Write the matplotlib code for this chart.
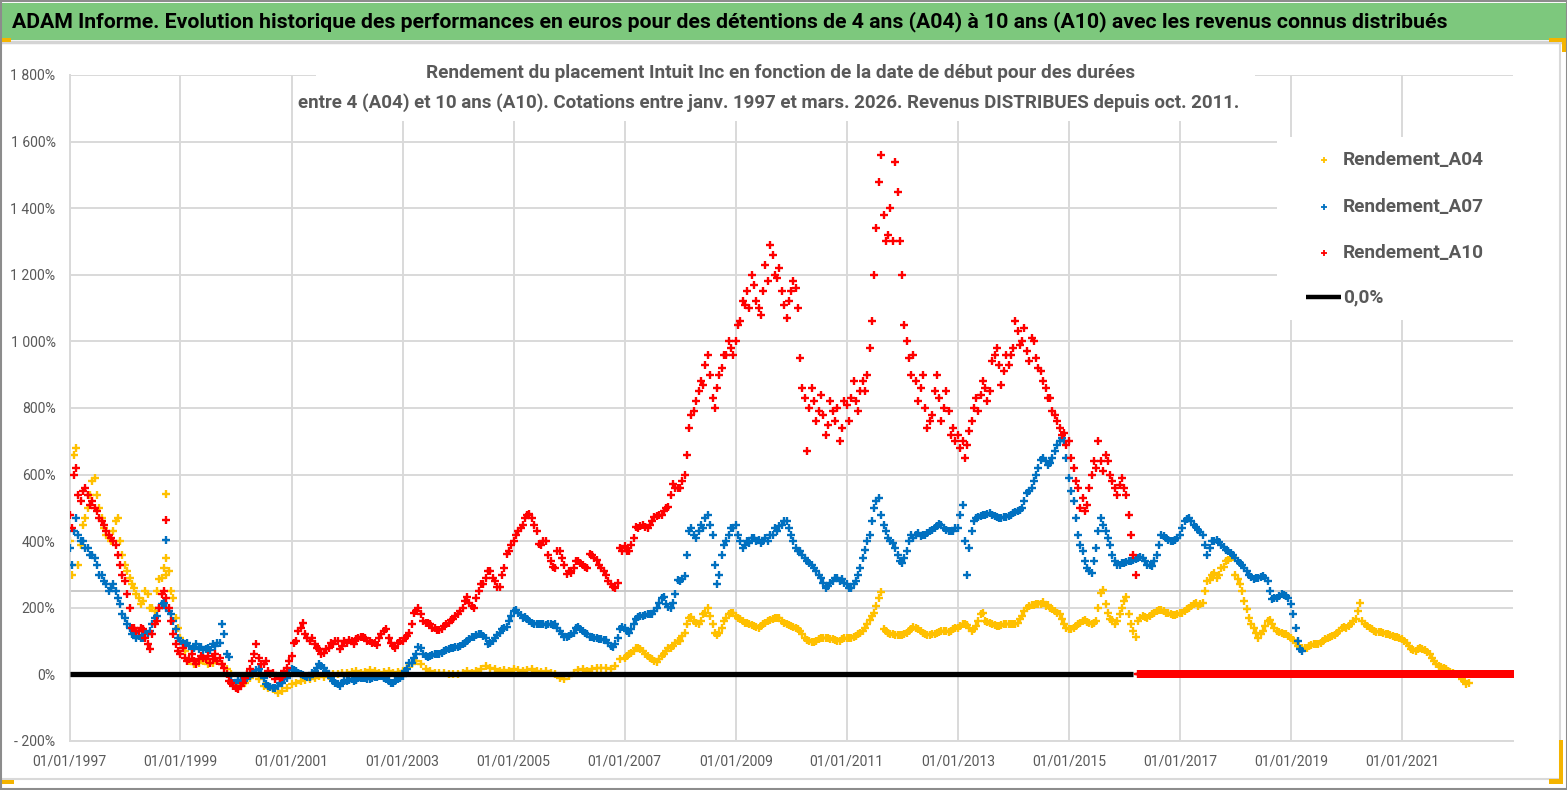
import numpy as np
import pandas as pd
import matplotlib
matplotlib.use("Agg")
import matplotlib.pyplot as plt
import matplotlib.dates as mdates
from matplotlib.patches import Rectangle
from matplotlib.lines import Line2D

# ---------------- DATA (in %) ----------------
title_text = ("ADAM Informe. Evolution historique des performances en euros pour des "
              "détentions de 4 ans (A04) à 10 ans (A10) avec les revenus connus distribués")
subtitle_1 = "Rendement du placement Intuit Inc en fonction de la date de début pour des durées"
subtitle_2 = ("entre 4 (A04) et 10 ans (A10). Cotations entre janv. 1997 et mars. 2026. "
              "Revenus DISTRIBUES depuis oct. 2011.")
legend_labels = ["Rendement_A04", "Rendement_A07", "Rendement_A10", "0,0%"]

start_date = "1997-01-01"
end_date = "2023-01-01"

# start-of-month values
rend_a04 = [
    400, 660, 330, 450, 500, 580, 540, 470, 420, 400, 460, 400,   # 1997
    330, 290, 260, 230, 220, 240, 200, 250, 290, 300, 250, 170,   # 1998
    110, 70, 40, 30, 35, 40, 30, 35, 40, 30, 15, 0,               # 1999
    -35, -30, -25, -10, 5, -15, -35, -40, -45, -55, -50, -40,     # 2000
    -30, -25, -20, -18, -15, -10, -5, -8, -5, 0, 0, 3,            # 2001
    5, 8, 10, 5, 8, 12, 10, 5, 8, 10, 5, 8,                       # 2002
    10, 20, 30, 40, 30, 15, 10, 5, 5, 3, 0, 2,                    # 2003
    0, 5, 10, 5, 10, 15, 25, 20, 15, 10, 12, 10,                  # 2004
    15, 12, 10, 12, 15, 10, 8, 10, 5, 0, -10, -15,                # 2005
    -5, 5, 12, 15, 10, 15, 20, 18, 20, 15, 25, 45,                # 2006
    50, 60, 70, 80, 70, 55, 45, 37, 55, 70, 80, 95,               # 2007
    100, 125, 170, 160, 150, 180, 200, 150, 118, 140, 170, 185,   # 2008
    175, 165, 155, 150, 145, 140, 150, 160, 165, 170, 160, 150,   # 2009
    145, 140, 130, 110, 100, 98, 105, 110, 108, 105, 100, 105,    # 2010
    108, 110, 115, 125, 140, 162, 185, 230, 135, 125, 120, 118,   # 2011
    118, 125, 135, 140, 130, 120, 118, 122, 128, 130, 128, 135,   # 2012
    140, 150, 148, 130, 145, 180, 160, 155, 148, 145, 150, 152,   # 2013
    150, 155, 175, 200, 208, 210, 212, 205, 200, 190, 180, 150,   # 2014
    135, 140, 150, 160, 158, 150, 160, 245, 210, 165, 150, 180,   # 2015
    220, 180, 130, 160, 175, 170, 180, 190, 193, 185, 180, 178,   # 2016
    183, 190, 200, 210, 205, 215, 280, 300, 290, 320, 340, 350,   # 2017
    300, 270, 220, 170, 140, 110, 130, 160, 150, 130, 125, 120,   # 2018
    110, 95, 80, 78, 85, 90, 92, 100, 110, 115, 125, 140,         # 2019
    140, 150, 165, 215, 150, 140, 130, 127, 125, 120, 115, 112,   # 2020
    105, 95, 75, 70, 78, 72, 60, 40, 25, 20, 10, 5,               # 2021
    0, -15, -28,                                                  # 2022
]
# mid-month values (15th)
rend_a04_mid_early = [
    300, 680, 390, 470, 540, 590, 500, 440, 410, 430, 470, 360,   # 1997
    310, 270, 240, 210, 250, 200, 190, 285, 320, 310, 230, 140,   # 1998
]
rend_a04_mid_late = [
    55, 65, 78, 75, 62, 48, 40, 45, 60, 78, 85, 100,              # 2007
    115, 150, 171, 155, 160, 183, 175, 123, 125, 160, 180, 184,   # 2008
    170, 160, 153, 148, 142, 145, 155, 163, 168, 168, 155, 148,   # 2009
    141, 135, 120, 103, 98, 100, 108, 110, 106, 102, 100, 108,    # 2010
    108, 112, 120, 130, 150, 175, 205, 248, 130, 122, 119, 119,   # 2011
    120, 130, 141, 135, 125, 119, 120, 125, 130, 129, 130, 138,   # 2012
    145, 152, 140, 135, 160, 184, 157, 150, 146, 148, 151, 150,   # 2013
    152, 165, 190, 205, 208, 211, 216, 208, 195, 185, 165, 140,   # 2014
    137, 145, 155, 163, 155, 155, 200, 253, 185, 163, 160, 200,   # 2015
    233, 150, 113, 170, 173, 175, 185, 193, 190, 183, 178, 180,   # 2016
    185, 195, 205, 213, 210, 250, 283, 305, 300, 323, 345, 353,   # 2017
    285, 250, 195, 150, 125, 120, 145, 162, 140, 128, 122, 115,   # 2018
    103, 85, 80, 80, 88, 92, 95, 105, 113, 118, 130, 142,         # 2019
    145, 160, 190, 160, 145, 135, 128, 127, 122, 118, 113, 110,   # 2020
    100, 85, 72, 75, 77, 68, 50, 30, 22, 15, 7, 2,                # 2021
    0, -20, -25,                                                  # 2022
]

rend_a07 = [
    380, 430, 420, 400, 380, 360, 330, 300, 270, 260, 250, 210,   # 1997
    170, 140, 125, 115, 110, 120, 150, 175, 210, 200, 180, 135,   # 1998
    100, 90, 85, 80, 75, 72, 80, 90, 95, 150, 60, -20,            # 1999
    -25, -20, -15, -5, 5, 15, -10, -35, -40, -35, -25, -10,       # 2000
    15, 10, 0, -5, -8, 10, 30, 20, 0, -20, -30, -25,              # 2001
    -20, -15, -18, -10, -12, -15, -8, -5, -10, -20, -27, -15,     # 2002
    -5, 15, 35, 60, 80, 55, 55, 60, 62, 70, 75, 80,               # 2003
    83, 90, 100, 112, 118, 122, 110, 95, 110, 125, 140, 160,      # 2004
    190, 185, 170, 165, 155, 150, 152, 148, 150, 152, 130, 112,   # 2005
    115, 125, 142, 130, 120, 112, 108, 105, 102, 85, 90, 135,     # 2006
    140, 125, 150, 172, 175, 180, 182, 200, 230, 210, 200, 240,   # 2007
    280, 295, 430, 420, 430, 440, 480, 420, 270, 360, 400, 440,   # 2008
    450, 400, 390, 395, 410, 405, 400, 402, 420, 430, 450, 460,   # 2009
    420, 380, 370, 350, 335, 320, 300, 275, 265, 280, 290, 285,   # 2010
    270, 260, 280, 320, 375, 420, 500, 530, 450, 410, 395, 360,   # 2011
    335, 370, 420, 420, 415, 420, 430, 440, 452, 440, 430, 430,   # 2012
    440, 510, 300, 430, 470, 475, 480, 484, 475, 470, 472, 475,   # 2013
    485, 490, 500, 545, 560, 600, 645, 640, 635, 670, 700, 700,   # 2014
    590, 520, 420, 370, 320, 305, 380, 470, 430, 390, 340, 330,   # 2015
    335, 340, 345, 350, 350, 330, 325, 360, 420, 410, 400, 405,   # 2016
    420, 460, 470, 450, 435, 420, 360, 400, 405, 390, 375, 365,   # 2017
    350, 335, 320, 300, 285, 290, 295, 280, 225, 230, 240, 235,   # 2018
    210, 140, 75,                                                 # 2019
]
# mid-month values (15th), 1997 to 2019
rend_a07_mid = [
    330, 470, 400, 380, 360, 350, 300, 280, 250, 270, 230, 180,   # 1997
    150, 120, 110, 110, 125, 130, 170, 200, 215, 190, 160, 110,   # 1998
    95, 93, 75, 90, 83, 75, 73, 85, 93, 120, 53, -25,             # 1999
    -17, -20, -10, 0, 13, 0, -30, -37, -40, -27, -15, 5,          # 2000
    13, 3, -3, -7, 5, 20, 25, 10, -10, -27, -35, -20,             # 2001
    -17, -20, -12, -12, -15, -10, -7, -5, -15, -27, -20, -10,     # 2002
    10, 33, 50, 83, 60, 53, 58, 62, 65, 73, 78, 82,               # 2003
    85, 95, 105, 112, 120, 115, 92, 100, 118, 135, 142, 175,      # 2004
    192, 178, 172, 160, 152, 150, 150, 152, 148, 140, 120, 112,   # 2005
    120, 140, 135, 125, 112, 110, 106, 103, 95, 82, 110, 142,     # 2006
    130, 135, 165, 175, 178, 182, 190, 215, 232, 202, 215, 282,   # 2007
    285, 360, 440, 410, 450, 470, 450, 330, 300, 390, 420, 440,   # 2008
    420, 380, 400, 410, 400, 395, 410, 420, 440, 445, 460, 440,   # 2009
    400, 370, 360, 340, 330, 310, 290, 260, 275, 290, 280, 275,   # 2010
    260, 270, 300, 350, 400, 460, 520, 480, 430, 400, 380, 340,   # 2011
    350, 400, 410, 425, 420, 425, 435, 445, 448, 435, 430, 440,   # 2012
    480, 400, 380, 460, 472, 478, 482, 480, 472, 471, 474, 480,   # 2013
    488, 495, 520, 550, 580, 620, 650, 630, 650, 690, 710, 650,   # 2014
    550, 470, 390, 340, 310, 340, 430, 450, 410, 360, 330, 335,   # 2015
    338, 342, 348, 352, 340, 328, 340, 390, 415, 405, 402, 410,   # 2016
    440, 468, 460, 442, 428, 390, 380, 402, 398, 382, 370, 358,   # 2017
    342, 328, 310, 292, 288, 292, 288, 250, 228, 235, 238, 228,   # 2018
    180, 100, 70,                                                 # 2019
]

rend_a10 = [
    480, 600, 540, 550, 540, 520, 490, 460, 430, 410, 390, 330,   # 1997
    280, 200, 140, 130, 135, 90, 120, 160, 240, 230, 160, 90,     # 1998
    60, 50, 45, 40, 45, 50, 55, 45, 40, 30, 0, -25,               # 1999
    -40, -35, -10, 15, 60, 50, 30, 10, 3, -5, -7, 20,             # 2000
    55, 100, 140, 120, 100, 90, 75, 65, 80, 90, 100, 85,          # 2001
    95, 100, 105, 112, 110, 100, 93, 110, 130, 110, 85, 95,       # 2002
    100, 115, 150, 190, 180, 155, 150, 140, 133, 145, 155, 165,   # 2003
    180, 200, 232, 205, 230, 270, 290, 310, 280, 262, 320, 370,   # 2004
    400, 430, 450, 480, 470, 430, 390, 400, 340, 320, 372, 330,   # 2005
    310, 320, 340, 330, 320, 360, 345, 320, 300, 270, 260, 380,   # 2006
    385, 370, 410, 440, 450, 440, 460, 475, 480, 500, 540, 560,   # 2007
    560, 600, 740, 790, 850, 870, 960, 830, 860, 920, 960, 980,   # 2008
    1000, 1060, 1110, 1100, 1170, 1100, 1150, 1180, 1260, 1190, 1150, 1070,  # 2009
    1150, 1160, 950, 830, 800, 820, 790, 780, 750, 790, 800, 740,  # 2010
    810, 830, 820, 850, 850, 980, 1200, 1480, 1380, 1320, 1300, 1450,  # 2011
    1200, 1000, 900, 880, 860, 800, 760, 850, 830, 800, 790, 740,  # 2012
    720, 700, 690, 760, 830, 840, 860, 850, 960, 930, 910, 930,   # 2013
    980, 1030, 1000, 970, 1010, 950, 910, 860, 830, 780, 740, 725,  # 2014
    700, 620, 560, 530, 510, 600, 620, 640, 660, 600, 560, 570,   # 2015
    560, 480, 360,                                                # 2016
]
# mid-month values (15th), 1997 to 2016
rend_a10_mid = [
    440, 620, 520, 560, 510, 500, 470, 450, 420, 400, 360, 300,   # 1997
    240, 140, 130, 140, 110, 75, 150, 200, 250, 200, 120, 70,     # 1998
    80, 40, 60, 30, 55, 45, 35, 60, 50, 20, -20, -35,             # 1999
    -45, -25, 0, 40, 90, 30, 40, 0, -15, -10, 10, 40,             # 2000
    95, 130, 153, 110, 110, 80, 60, 75, 95, 100, 75, 100,         # 2001
    103, 90, 108, 113, 100, 95, 88, 120, 135, 95, 80, 100,        # 2002
    110, 123, 183, 200, 160, 153, 140, 133, 135, 150, 163, 175,   # 2003
    190, 220, 215, 200, 250, 272, 312, 290, 262, 300, 362, 390,   # 2004
    420, 440, 470, 482, 450, 392, 402, 360, 322, 372, 350, 302,   # 2005
    305, 342, 335, 322, 362, 350, 330, 310, 280, 262, 275, 372,   # 2006
    372, 390, 442, 445, 442, 450, 472, 478, 490, 502, 572, 560,   # 2007
    580, 660, 780, 820, 880, 930, 900, 800, 900, 960, 1000, 960,  # 2008
    1050, 1120, 1150, 1200, 1120, 1080, 1230, 1290, 1200, 1220, 1110, 1120,  # 2009
    1180, 1100, 860, 670, 860, 760, 840, 720, 820, 760, 700, 820,  # 2010
    760, 880, 790, 880, 900, 1060, 1340, 1560, 1300, 1400, 1540, 1300,  # 2011
    1050, 950, 960, 820, 900, 740, 780, 900, 760, 850, 720, 700,  # 2012
    680, 650, 730, 800, 790, 880, 820, 940, 980, 870, 960, 960,   # 2013
    1060, 990, 1040, 940, 1000, 920, 880, 830, 790, 760, 720, 690,  # 2014
    650, 580, 500, 490, 560, 640, 700, 610, 640, 580, 540, 590,   # 2015
    540, 420, 300,                                                # 2016
]

# isolated spike points (vertical strokes) at one start date
spike_date = "1998-10-01"
spike_a04 = [543, 350]
spike_a07 = [403]
spike_a10 = [463]

# Excel plots the not-yet-known returns as 0 after the last possible start date
zero_a04_from = "2022-04-01"
zero_a07_from = "2019-04-01"
zero_a10_from = "2016-04-01"
zero_line_end = "2016-03-01"

y_ticks = [-200, 0, 200, 400, 600, 800, 1000, 1200, 1400, 1600, 1800]
y_tick_labels = ["- 200%", "0%", "200%", "400%", "600%", "800%", "1 000%",
                 "1 200%", "1 400%", "1 600%", "1 800%"]
x_tick_years = list(range(1997, 2023, 2))
extra_hline = 250

col_a04, col_a07, col_a10 = "#FFC000", "#0070C0", "#FF0000"
txt_gray = "#595959"
grid_col = "#D9D9D9"

# ---------------- FIGURE ----------------
W, H = 1567, 790
fig = plt.figure(figsize=(W / 100, H / 100), dpi=100)
fig.patch.set_facecolor("white")
fam = ["Liberation Sans Narrow", "Roboto", "DejaVu Sans"]
plt.rcParams["font.family"] = fam

AX_L, AX_R, AX_T, AX_B = 69.5, 1513, 75, 741
ax = fig.add_axes([AX_L / W, 1 - AX_B / H, (AX_R - AX_L) / W, (AX_B - AX_T) / H])


def month_dates(first, n, mid=False):
    d = pd.date_range(first, periods=n, freq="MS")
    return d + pd.Timedelta(days=14) if mid else d


def zero_tail(frm):
    d = pd.date_range(frm, end_date, freq="7D")
    return d, np.zeros(len(d))


mk = dict(linestyle="none", marker="+", ms=6.0, mew=1.7)
series = [
    (rend_a04, [(start_date, rend_a04_mid_early), ("2007-01-01", rend_a04_mid_late)],
     spike_a04, zero_a04_from, col_a04),
    (rend_a07, [(start_date, rend_a07_mid)], spike_a07, zero_a07_from, col_a07),
    (rend_a10, [(start_date, rend_a10_mid)], spike_a10, zero_a10_from, col_a10),
]
for i, (vals, mids, spk, zfrom, col) in enumerate(series):
    z = 2 + i
    zd, zv = zero_tail(zfrom)
    ax.plot(zd, zv, color=col, zorder=z, **mk)
    ax.plot(month_dates(start_date, len(vals)), vals, color=col, zorder=z, **mk)
    for first, mv in mids:
        ax.plot(month_dates(first, len(mv), mid=True), mv, color=col, zorder=z, **mk)
    ax.plot(pd.to_datetime([spike_date] * len(spk)), spk, color=col, zorder=z, **mk)

zl = pd.date_range(start_date, zero_line_end, freq="MS")
ax.plot(zl, np.zeros(len(zl)), color="black", lw=3.8, zorder=6, solid_capstyle="butt")

ax.axhline(extra_hline, color="#C6C6C6", lw=1.3, zorder=0.6)

ax.set_xlim(pd.Timestamp(start_date), pd.Timestamp(end_date))
ax.set_ylim(-200, 1800)
ax.set_yticks(y_ticks)
ax.set_yticklabels(y_tick_labels)
ax.set_xticks([pd.Timestamp(f"{y}-01-01") for y in x_tick_years])
ax.xaxis.set_major_formatter(mdates.DateFormatter("%d/%m/%Y"))
ax.grid(True, color=grid_col, lw=1.4)
ax.set_axisbelow(True)
for s in ["top", "right"]:
    ax.spines[s].set_visible(False)
for s in ["left", "bottom"]:
    ax.spines[s].set_color(grid_col)
    ax.spines[s].set_linewidth(1.4)
ax.tick_params(axis="both", length=0, colors=txt_gray)
ax.tick_params(axis="y", pad=10)
ax.tick_params(axis="x", pad=10)


# ---------------- helpers ----------------
def rect_px(x0, y0, x1, y1, **kw):
    r = Rectangle((x0 / W, 1 - y1 / H), (x1 - x0) / W, (y1 - y0) / H,
                  transform=fig.transFigure, **kw)
    fig.add_artist(r)
    return r


def line_px(xs, ys, **kw):
    l = Line2D([x / W for x in xs], [1 - y / H for y in ys],
               transform=fig.transFigure, **kw)
    fig.add_artist(l)
    return l


def text_px(x, y, s, **kw):
    return fig.text(x / W, 1 - y / H, s, **kw)


renderer = fig.canvas.get_renderer()


def fit(t, target_w):
    w = t.get_window_extent(renderer).width
    t.set_fontsize(t.get_fontsize() * target_w / w)


# ---------------- frame decorations ----------------
rect_px(0.5, 0.5, 1566.5, 789, fill=False, edgecolor="#8C8C8C", lw=1.5, zorder=20)
rect_px(1.5, 3, 1565.5, 39.5, facecolor="#7DC87D", edgecolor="none", zorder=10)
line_px([0, 1560], [41.5, 41.5], color="#D4D4D4", lw=2.5, zorder=10)
line_px([1559.5, 1559.5], [42, 779], color="#D9D9D9", lw=1.5, zorder=10)
line_px([0, 1560], [779, 779], color="#D9D9D9", lw=1.5, zorder=10)
gold = "#F4B400"
rect_px(0, 38, 11, 41.5, facecolor=gold, edgecolor="none", zorder=11)
rect_px(1549, 38, 1565.5, 41.5, facecolor=gold, edgecolor="none", zorder=11)
rect_px(1562, 38, 1565.5, 52, facecolor=gold, edgecolor="none", zorder=11)
rect_px(1559, 740, 1563, 784, facecolor=gold, edgecolor="none", zorder=11)
rect_px(1549, 779, 1563, 784, facecolor=gold, edgecolor="none", zorder=11)
rect_px(0, 780, 14, 784, facecolor=gold, edgecolor="none", zorder=11)

# white boxes hiding gridlines behind subtitle and legend
rect_px(316, 43, 1255, 121, facecolor="white", edgecolor="none", zorder=3)
rect_px(1277, 137, 1513, 320, facecolor="white", edgecolor="none", zorder=3)

# ---------------- texts ----------------
t_title = text_px(12, 22, title_text, fontsize=16, fontweight="bold", color="black",
                  ha="left", va="center", zorder=12)
fit(t_title, 1443)
t_s1 = text_px(781, 73.5, subtitle_1, fontsize=13, fontweight="bold", color=txt_gray,
               ha="center", va="center", zorder=12)
fit(t_s1, 707)
t_s2 = text_px(769, 103, subtitle_2, fontsize=13, fontweight="bold", color=txt_gray,
               ha="center", va="center", zorder=12)
fit(t_s2, 942)

# legend (manual, exact placement)
leg_y = [160, 207, 253, 297]
leg_cols = [col_a04, col_a07, col_a10]
leg_texts = []
for i in range(3):
    line_px([1324], [leg_y[i]], color=leg_cols[i], marker="+", ms=4.5, mew=1.3,
            linestyle="none", zorder=12)
line_px([1306, 1341], [leg_y[3], leg_y[3]], color="black", lw=3.2, zorder=12,
        solid_capstyle="butt")
for i, lab in enumerate(legend_labels):
    t = text_px(1343, leg_y[i], lab, fontsize=13, fontweight="bold", color=txt_gray,
                ha="left", va="center", zorder=12)
    leg_texts.append(t)
fit(leg_texts[0], 141)
for t in leg_texts[1:]:
    t.set_fontsize(leg_texts[0].get_fontsize())

# tick label sizes fitted to the reference
fig.canvas.draw()
xl = ax.get_xticklabels()[0]
xfs = xl.get_fontsize() * 74 / xl.get_window_extent(renderer).width
yl = ax.get_yticklabels()[-1]
yfs = yl.get_fontsize() * 45 / yl.get_window_extent(renderer).width
for lab in ax.get_xticklabels():
    lab.set_fontsize(xfs)
for lab in ax.get_yticklabels():
    lab.set_fontsize(yfs)

fig.savefig("out.png", dpi=100, facecolor="white")
